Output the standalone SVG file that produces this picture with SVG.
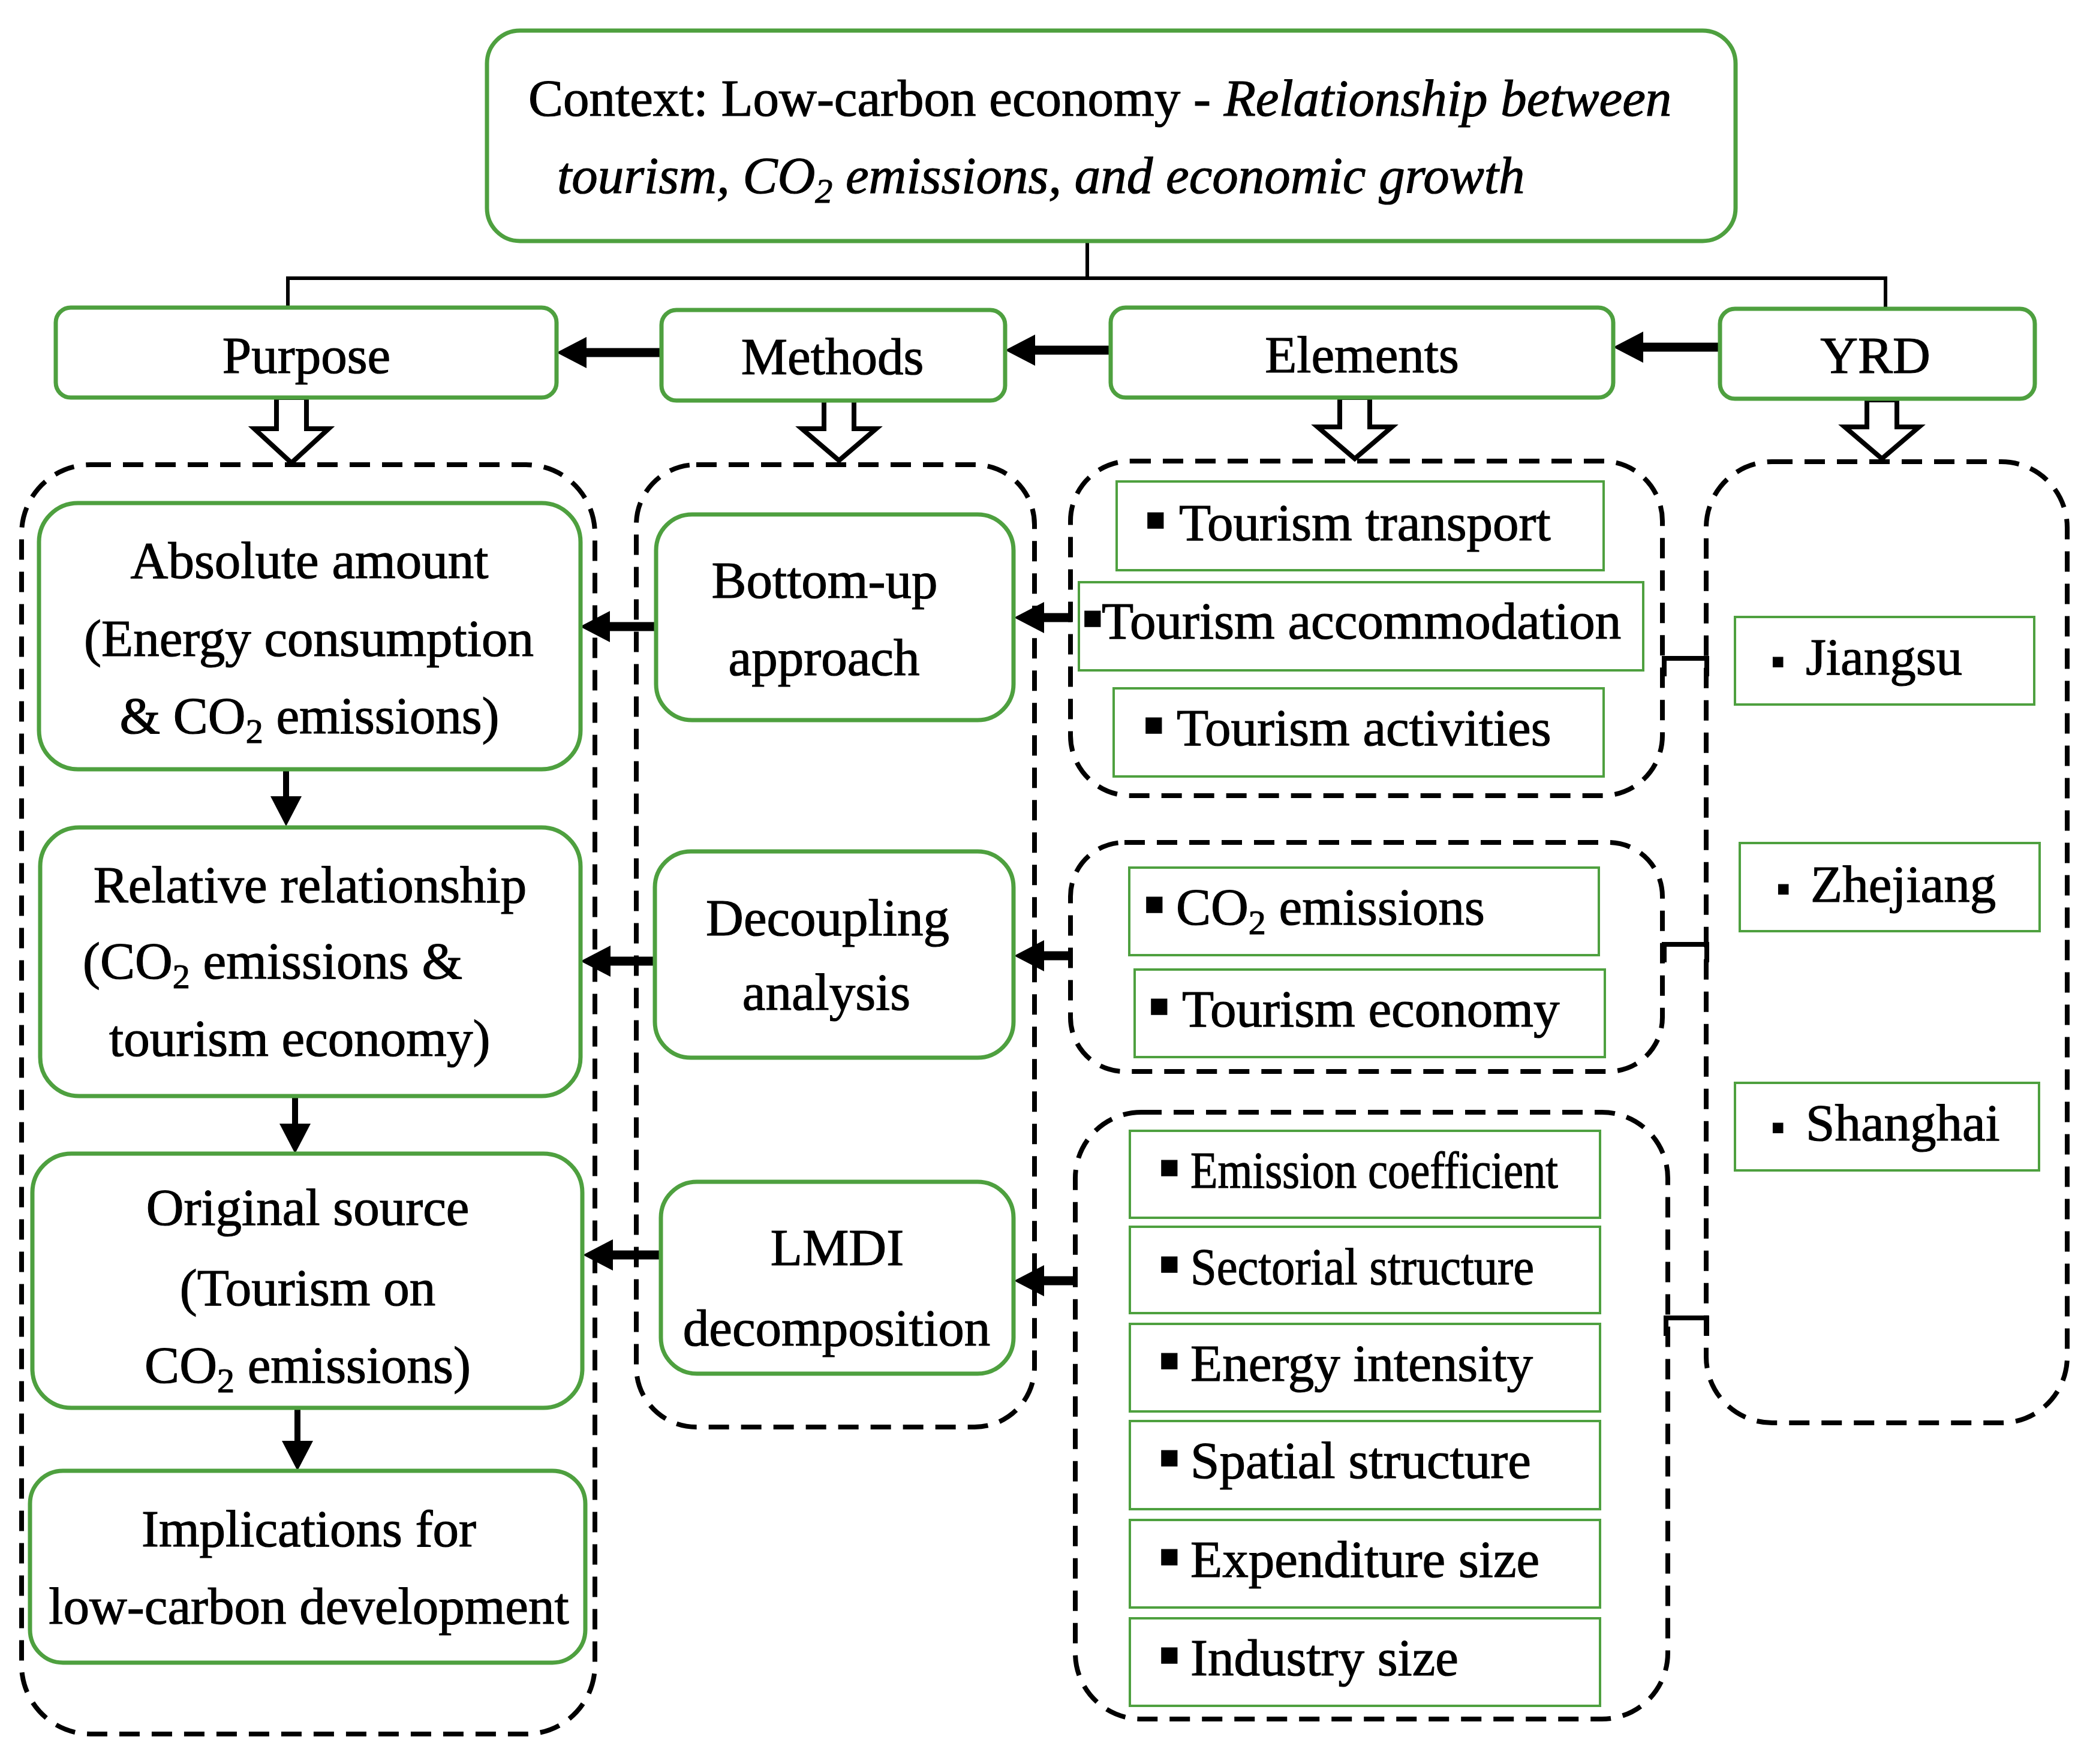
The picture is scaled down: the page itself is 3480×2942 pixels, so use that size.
<svg xmlns="http://www.w3.org/2000/svg" width="3480" height="2942" viewBox="0 0 3480 2942">
<style>
text{font-family:"Liberation Serif","Times New Roman",serif;font-size:87px;fill:#000;stroke:#000;stroke-width:1.2px}
.c{text-anchor:middle}
.it{font-style:italic}
.sub{font-size:58px}
.b{font-size:105px}
.by{font-size:66px}
.node{fill:#fff;stroke:#4ea03f;stroke-width:7}
.item{fill:#fff;stroke:#4ea03f;stroke-width:4}
.dash{fill:none;stroke:#000;stroke-width:8;stroke-dasharray:34 20}
.ln{fill:none;stroke:#000;stroke-width:6}
.ar{fill:none;stroke:#000;stroke-width:15;marker-end:url(#ah)}
.ard{fill:none;stroke:#000;stroke-width:10;marker-end:url(#ah)}
.hol{fill:#fff;stroke:#000;stroke-width:8;stroke-linejoin:miter}
.br{fill:none;stroke:#000;stroke-width:8}
</style>
<defs>
<marker id="ah" markerUnits="userSpaceOnUse" markerWidth="50" markerHeight="52" refX="10" refY="26" orient="auto">
<path d="M0,0 L50,26 L0,52 Z" fill="#000"/>
</marker>
</defs>
<rect width="3480" height="2942" fill="#fff"/>

<!-- dashed containers -->
<g id="containers">
<rect id="purpose-group" class="dash" x="36" y="775" width="956" height="2117" rx="115"/>
<rect id="methods-group" class="dash" x="1061" y="775" width="664" height="1605" rx="100"/>
<rect id="elements-group-1" class="dash" x="1785" y="769" width="987" height="558" rx="100"/>
<rect id="elements-group-2" class="dash" x="1785" y="1405" width="987" height="382" rx="90"/>
<rect id="elements-group-3" class="dash" x="1793" y="1855" width="988" height="1012" rx="110"/>
<rect id="yrd-group" class="dash" x="2845" y="770" width="602" height="1603" rx="110"/>
</g>

<!-- connectors -->
<g id="connectors">
<path class="ln" d="M1813,402 V464 M477,464 H3145 M480,461 V515 M3144,461 V515"/>
<line class="ar" x1="1103" y1="588" x2="968" y2="588"/>
<line class="ar" x1="1850" y1="584" x2="1716" y2="584"/>
<line class="ar" x1="2868" y1="579" x2="2730" y2="579"/>
<path class="hol" d="M461,663 H511 V715 H548 L486,772 L424,715 H461 Z"/>
<path class="hol" d="M1374,665 H1424 V715 H1461 L1399,768 L1337,715 H1374 Z"/>
<path class="hol" d="M2234,663 H2284 V712 H2321 L2259,765 L2197,712 H2234 Z"/>
<path class="hol" d="M3113,667 H3163 V712 H3200 L3138,765 L3076,712 H3113 Z"/>
<line class="ard" x1="477" y1="1283" x2="477" y2="1338"/>
<line class="ard" x1="492" y1="1828" x2="492" y2="1884"/>
<line class="ard" x1="496" y1="2348" x2="496" y2="2413"/>
<line class="ar" x1="1094" y1="1045" x2="1007" y2="1045"/>
<line class="ar" x1="1091" y1="1603" x2="1008" y2="1603"/>
<line class="ar" x1="1102" y1="2093" x2="1012" y2="2093"/>
<line class="ar" x1="1787" y1="1030" x2="1731" y2="1030"/>
<line class="ar" x1="1785" y1="1594" x2="1731" y2="1594"/>
<line class="ar" x1="1793" y1="2136" x2="1731" y2="2136"/>
<path class="br" d="M2775,1128 V1098 H2846 V1128"/>
<path class="br" d="M2775,1605 V1575 H2846 V1605"/>
<path class="br" d="M2778,2228 V2198 H2846 V2228"/>
</g>

<!-- context -->
<g id="context">
<rect class="node" x="812" y="51" width="2082" height="351" rx="55"/>
<text x="881" y="193">Context: Low-carbon economy - <tspan class="it">Relationship between</tspan></text>
<text x="929" y="322" class="it">tourism, CO<tspan class="sub" dy="16">2</tspan><tspan dy="-16"> emissions, and economic growth</tspan></text>
</g>

<!-- headers -->
<g id="purpose">
<rect class="node" x="93" y="513" width="835" height="150" rx="25"/>
<text class="c" x="511" y="622">Purpose</text>
</g>
<g id="methods">
<rect class="node" x="1103" y="517" width="573" height="151" rx="25"/>
<text class="c" x="1388" y="624">Methods</text>
</g>
<g id="elements">
<rect class="node" x="1852" y="513" width="838" height="150" rx="25"/>
<text class="c" x="2271" y="621">Elements</text>
</g>
<g id="yrd">
<rect class="node" x="2868" y="515" width="525" height="150" rx="25"/>
<text class="c" x="3127" y="622">YRD</text>
</g>

<!-- purpose nodes -->
<g id="absolute-amount">
<rect class="node" x="65" y="839" width="903" height="444" rx="65"/>
<text class="c" x="516" y="964">Absolute amount</text>
<text class="c" x="515" y="1094">(Energy consumption</text>
<text class="c" x="516" y="1223">&amp; CO<tspan class="sub" dy="16">2</tspan><tspan dy="-16"> emissions)</tspan></text>
</g>
<g id="relative-relationship">
<rect class="node" x="67" y="1380" width="901" height="448" rx="65"/>
<text class="c" x="517" y="1505">Relative relationship</text>
<text x="138" y="1632">(CO<tspan class="sub" dy="16">2</tspan><tspan dy="-16"> emissions &amp;</tspan></text>
<text x="182" y="1761">tourism economy)</text>
</g>
<g id="original-source">
<rect class="node" x="54" y="1924" width="917" height="424" rx="65"/>
<text class="c" x="513" y="2043">Original source</text>
<text class="c" x="513" y="2177">(Tourism on</text>
<text class="c" x="513" y="2306">CO<tspan class="sub" dy="16">2</tspan><tspan dy="-16"> emissions)</tspan></text>
</g>
<g id="implications">
<rect class="node" x="50" y="2453" width="926" height="320" rx="55"/>
<text class="c" x="515" y="2579">Implications for</text>
<text class="c" x="515" y="2708">low-carbon development</text>
</g>

<!-- methods nodes -->
<g id="bottom-up">
<rect class="node" x="1094" y="858" width="596" height="343" rx="60"/>
<text class="c" x="1375" y="997">Bottom-up</text>
<text class="c" x="1374" y="1126">approach</text>
</g>
<g id="decoupling">
<rect class="node" x="1092" y="1420" width="598" height="344" rx="60"/>
<text class="c" x="1380" y="1560">Decoupling</text>
<text class="c" x="1378" y="1684">analysis</text>
</g>
<g id="lmdi">
<rect class="node" x="1102" y="1971" width="588" height="320" rx="60"/>
<text class="c" x="1396" y="2110">LMDI</text>
<text class="c" x="1395" y="2244">decomposition</text>
</g>

<!-- element items -->
<g id="tourism-transport">
<rect class="item" x="1862" y="803" width="812" height="148"/>
<text y="901"><tspan class="b" x="1908">▪</tspan><tspan x="1966">Tourism transport</tspan></text>
</g>
<g id="tourism-accommodation">
<rect class="item" x="1799" y="971" width="941" height="147"/>
<text y="1065"><tspan class="b" x="1803">▪</tspan><tspan x="1837">Tourism accommodation</tspan></text>
</g>
<g id="tourism-activities">
<rect class="item" x="1857" y="1148" width="817" height="147"/>
<text y="1243"><tspan class="b" x="1905">▪</tspan><tspan x="1962">Tourism activities</tspan></text>
</g>
<g id="co2-emissions">
<rect class="item" x="1883" y="1447" width="783" height="146"/>
<text y="1542"><tspan class="b" x="1906">▪</tspan><tspan x="1961">CO</tspan><tspan class="sub" dy="16">2</tspan><tspan dy="-16"> emissions</tspan></text>
</g>
<g id="tourism-economy">
<rect class="item" x="1892" y="1617" width="784" height="146"/>
<text y="1712"><tspan class="b" x="1914">▪</tspan><tspan x="1971">Tourism economy</tspan></text>
</g>
<g id="emission-coefficient">
<rect class="item" x="1884" y="1886" width="784" height="145"/>
<text y="1981"><tspan class="b" x="1931">▪</tspan><tspan x="1985" textLength="613" lengthAdjust="spacingAndGlyphs">Emission coefficient</tspan></text>
</g>
<g id="sectorial-structure">
<rect class="item" x="1884" y="2046" width="784" height="144"/>
<text y="2142"><tspan class="b" x="1931">▪</tspan><tspan x="1985" textLength="573" lengthAdjust="spacingAndGlyphs">Sectorial structure</tspan></text>
</g>
<g id="energy-intensity">
<rect class="item" x="1884" y="2208" width="784" height="146"/>
<text y="2303"><tspan class="b" x="1931">▪</tspan><tspan x="1985">Energy intensity</tspan></text>
</g>
<g id="spatial-structure">
<rect class="item" x="1884" y="2370" width="784" height="147"/>
<text y="2465"><tspan class="b" x="1931">▪</tspan><tspan x="1985">Spatial structure</tspan></text>
</g>
<g id="expenditure-size">
<rect class="item" x="1884" y="2535" width="784" height="146"/>
<text y="2630"><tspan class="b" x="1931">▪</tspan><tspan x="1985">Expenditure size</tspan></text>
</g>
<g id="industry-size">
<rect class="item" x="1884" y="2699" width="784" height="146"/>
<text y="2794"><tspan class="b" x="1931">▪</tspan><tspan x="1985">Industry size</tspan></text>
</g>

<!-- YRD items -->
<g id="jiangsu">
<rect class="item" x="2893" y="1029" width="499" height="146"/>
<text y="1125"><tspan class="by" x="2953">▪</tspan><tspan x="3011">Jiangsu</tspan></text>
</g>
<g id="zhejiang">
<rect class="item" x="2901" y="1406" width="500" height="147"/>
<text y="1504"><tspan class="by" x="2962">▪</tspan><tspan x="3019">Zhejiang</tspan></text>
</g>
<g id="shanghai">
<rect class="item" x="2893" y="1806" width="507" height="146"/>
<text y="1902"><tspan class="by" x="2953">▪</tspan><tspan x="3011">Shanghai</tspan></text>
</g>
</svg>
